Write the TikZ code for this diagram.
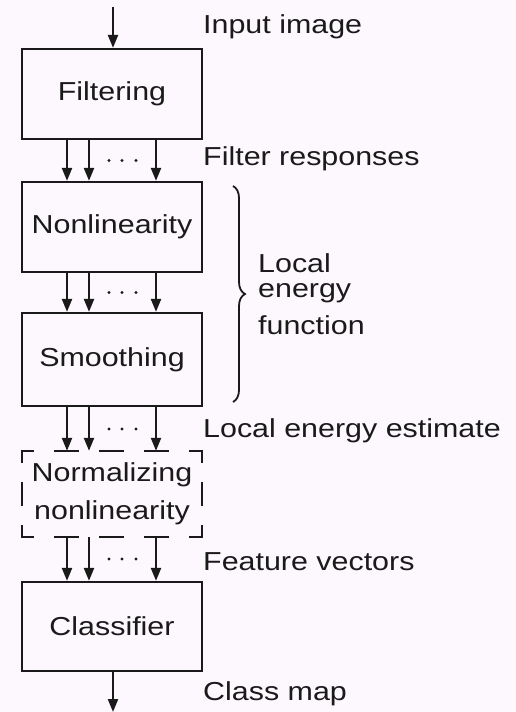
\documentclass[tikz,border=0pt]{standalone}
\usepackage{fontspec}
\setmainfont{Liberation Sans}
\usetikzlibrary{arrows.meta,decorations.pathreplacing}
\definecolor{bg}{HTML}{FDF8FD}
\definecolor{ink}{HTML}{1A1A1A}
\newcommand{\tx}[1]{\scalebox{1.17}[1]{#1}}
\begin{document}
\begin{tikzpicture}[x=1pt,y=-1pt,
  every node/.style={text=ink,font=\fontsize{26}{38}\selectfont},
  blk/.style={draw=ink,line width=2.3pt,minimum width=180pt,inner sep=0pt},
  arr/.style={draw=ink,line width=2.3pt,-{Triangle[length=13pt,width=10pt]}},
  lbl/.style={anchor=base west,inner sep=0pt},
  dsh/.style={draw=ink,line width=2.3pt,line cap=rect},
  dotc/.style={fill=ink,draw=none}]
\fill[bg] (0,0) rectangle (516,712);
\useasboundingbox (0,0) rectangle (516,712);

% boxes
\node[blk,minimum height=90pt] (filt) at (112,94) {\tx{Filtering}};
\node[blk,minimum height=90pt] (nonl) at (112,227) {\tx{Nonlinearity}};
\node[blk,minimum height=93pt] (smoo) at (112,359.5) {\tx{Smoothing}};
\node[minimum width=180pt,minimum height=86pt,inner sep=0pt,align=center] (norm) at (112,494) {\tx{Normalizing}\\\tx{nonlinearity}};
\node[blk,minimum height=89pt] (clas) at (112,626.5) {\tx{Classifier}};

% dashed outline of normalizing box
\draw[dsh,dash pattern=on 22.5pt off 22.5pt,dash phase=11.25pt] (norm.north west) -- (norm.north east);
\draw[dsh,dash pattern=on 22.5pt off 22.5pt,dash phase=11.25pt] (norm.south west) -- (norm.south east);
\draw[dsh,dash pattern=on 21.5pt off 21.5pt,dash phase=10.75pt] (norm.north west) -- (norm.south west);
\draw[dsh,dash pattern=on 21.5pt off 21.5pt,dash phase=10.75pt] (norm.north east) -- (norm.south east);

% input / output
\coordinate (in) at (113,7);
\coordinate (out) at (113,712);
\draw[arr] (in) -- (filt.north -| in);
\draw[arr] (clas.south -| out) -- (out);

% multi-arrows
\foreach \a/\b/\n in {filt/nonl/1,nonl/smoo/2,smoo/norm/3,norm/clas/4}{
  \foreach \dx in {-45,-23,44}{
    \draw[arr] ([xshift=\dx pt]\a.south) -- ([xshift=\dx pt]\b.north);
  }
  \path ([xshift=-3pt]\a.south) -- ([xshift=-3pt]\b.north) coordinate[pos=0.5] (m\n);
  \foreach \ox in {0,13,27}{
    \fill[dotc] ([xshift=\ox pt]m\n) circle (1.6pt);
  }
}

% labels
\node[lbl] (lin) at (203,33) {\tx{Input image}};
\node[lbl] (lfr) at (203,165) {\tx{Filter responses}};
\node[lbl] (lle) at (203,437) {\tx{Local energy estimate}};
\node[lbl] (lfv) at (203,570) {\tx{Feature vectors}};
\node[lbl] (lcm) at (203,700) {\tx{Class map}};

% brace
\coordinate (bt) at (233,186);
\coordinate (bb) at (233,402);
\draw[ink,line width=1.8pt,decorate,decoration={brace,amplitude=12pt}] (bt) -- (bb);
\node[lbl] (l1) at (258,272) {\tx{Local}};
\node[lbl] (l2) at (258,297) {\tx{energy}};
\node[lbl] (l3) at (258,334) {\tx{function}};
\end{tikzpicture}
\end{document}
